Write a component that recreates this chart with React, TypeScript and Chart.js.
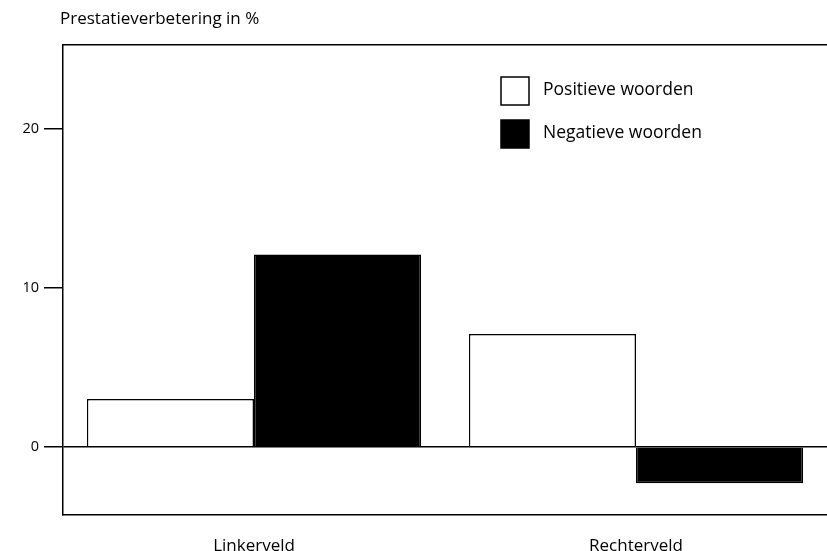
import React, { useEffect, useRef } from "react";
import { Chart, registerables } from "chart.js";

Chart.register(...registerables);

const categories = ["Linkerveld", "Rechterveld"];
const seriesNames = ["Positieve woorden", "Negatieve woorden"];
const positiveValues = [3, 7.1];
const negativeValues = [12.1, -2.3];
const yTicks = [0, 10, 20];
const yTitle = "Prestatieverbetering in %";

const FONT = "'Open Sans', 'DejaVu Sans', sans-serif";

const titlePlugin = {
  id: "topTitle",
  afterDraw(chart: any) {
    const { ctx, chartArea } = chart;
    ctx.save();
    ctx.fillStyle = "#000";
    ctx.font = `17px ${FONT}`;
    ctx.textBaseline = "middle";
    ctx.textAlign = "left";
    ctx.fillText(yTitle, chartArea.left - 3, 19);
    ctx.restore();
  },
};

const legendPlugin = {
  id: "boxLegend",
  afterDraw(chart: any) {
    const { ctx } = chart;
    const ds = chart.data.datasets;
    ctx.save();
    ctx.font = `17.5px ${FONT}`;
    ctx.textBaseline = "middle";
    ctx.textAlign = "left";
    ds.forEach((d: any, i: number) => {
      const x = 501;
      const y = 77 + i * 43;
      ctx.fillStyle = d.backgroundColor;
      ctx.fillRect(x, y, 28, 28);
      ctx.strokeStyle = "#000";
      ctx.lineWidth = 1.5;
      ctx.strokeRect(x, y, 28, 28);
      ctx.fillStyle = "#000";
      ctx.fillText(d.label, 543, y + 13);
    });
    ctx.restore();
  },
};

export default function App() {
  const ref = useRef<HTMLCanvasElement | null>(null);
  useEffect(() => {
    if (!ref.current) return;
    const chart = new Chart(ref.current, {
      type: "bar",
      data: {
        labels: categories,
        datasets: [
          {
            label: seriesNames[0],
            data: positiveValues,
            backgroundColor: "#ffffff",
            borderColor: "#000000",
            borderWidth: 1.5,
            categoryPercentage: 0.875,
            barPercentage: 1,
          },
          {
            label: seriesNames[1],
            data: negativeValues,
            backgroundColor: "#000000",
            borderColor: "#000000",
            borderWidth: 1.5,
            categoryPercentage: 0.875,
            barPercentage: 1,
          },
        ],
      },
      options: {
        animation: false,
        responsive: false,
        maintainAspectRatio: false,
        layout: { padding: { top: 45, left: 0, right: 0, bottom: 0 } },
        plugins: {
          legend: { display: false },
          tooltip: { enabled: false },
          title: { display: false },
        },
        scales: {
          x: {
            position: "bottom",
            grid: { display: false },
            border: { display: true, color: "#000", width: 1.5 },
            ticks: {
              color: "#000",
              font: { family: FONT, size: 17 },
              padding: 13,
            },
            afterFit(scale: any) {
              scale.height = 36;
            },
          },
          x2: {
            type: "category",
            labels: categories,
            position: "top",
            grid: { display: false },
            border: { display: true, color: "#000", width: 1.5 },
            ticks: { display: false },
            afterFit(scale: any) {
              scale.height = 0;
            },
          },
          y: {
            min: -4.3,
            max: 25.3,
            afterBuildTicks(scale: any) {
              scale.ticks = yTicks.map((v) => ({ value: v }));
            },
            grid: {
              drawOnChartArea: true,
              color: (c: any) => (c.tick && c.tick.value === 0 ? "#000" : "rgba(0,0,0,0)"),
              tickColor: "#000",
              tickLength: 19,
              lineWidth: 1.5,
            },
            border: { display: true, color: "#000", width: 1.5 },
            ticks: {
              color: "#000",
              font: { family: FONT, size: 14.5 },
              padding: 5,
            },
            afterFit(scale: any) {
              scale.width = 63;
            },
          },
        },
      },
      plugins: [titlePlugin, legendPlugin],
    } as any);
    return () => chart.destroy();
  }, []);
  return (
    <div style={{ position: "absolute", left: 0, top: 0, width: 827, height: 551, background: "#fff" }}>
      <canvas ref={ref} width={827} height={551} style={{ display: "block" }} />
    </div>
  );
}
